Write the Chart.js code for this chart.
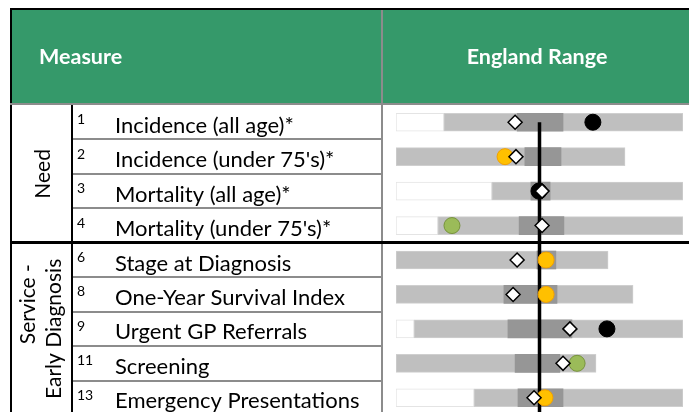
<!DOCTYPE html>
<html lang="en">
<head>
<meta charset="utf-8">
<title>England Range</title>
<script src="https://cdn.jsdelivr.net/npm/chart.js@4/dist/chart.umd.min.js"></script>
<style>
  html, body { margin: 0; padding: 0; background: #fff; overflow: hidden; }
  canvas { display: block; }
</style>
</head>
<body>
<canvas id="spine" width="689" height="420"></canvas>
<script>
// table rows, top to bottom
const rowNumbers = ['1', '2', '3', '4', '6', '8', '9', '11', '13'];
const measures = [
  'Incidence (all age)*',
  'Incidence (under 75\'s)*',
  'Mortality (all age)*',
  'Mortality (under 75\'s)*',
  'Stage at Diagnosis',
  'One-Year Survival Index',
  'Urgent GP Referrals',
  'Screening',
  'Emergency Presentations'
];
const needLabel = 'Need';
const serviceLabel = ['Service - ', 'Early Diagnosis'];
const headerLabels = ['Measure', 'England Range'];

// England range, scaled 0-100 with the England average in the middle
const englandAverage = 50;
const whiteEnd   = [16.7, 0, 33.4, 14.6, 0, 0, 6.3, 0, 27.2];
const darkStart  = [42.2, 44.9, 47.0, 42.9, 49.1, 37.6, 39.0, 41.5, 42.5];
const darkEnd    = [58.2, 57.5, 53.7, 58.5, 55.7, 56.1, 61.3, 57.1, 58.2];
const rangeEnd   = [100, 79.8, 100, 100, 73.9, 82.6, 100, 69.7, 100];
const diamondValues = [41.5, 41.8, 50.9, 50.9, 42.2, 40.8, 60.6, 58.2, 48.1];
const localValues   = [68.6, 38.0, 49.8, 19.5, 52.3, 52.3, 73.5, 63.1, 51.9];
const localStatus   = ['none', 'amber', 'none', 'green', 'amber', 'amber', 'none', 'green', 'amber'];

const statusFill = { none: '#000000', amber: '#ffc000', green: '#9bbb59' };
const statusEdge = { none: '#000000', amber: '#f2a100', green: '#77933c' };

const FONT = 'Lato';

// draws the table (header, borders, row text) behind the spine chart
const tablePlugin = {
  id: 'tableGrid',
  beforeDraw(chart) {
    const ctx = chart.ctx;
    const W = chart.width, H = chart.height;
    const ys = chart.scales.y;
    const rowTop = i => ys.getPixelForValue(i - 0.5);
    const rowMid = i => ys.getPixelForValue(i);

    ctx.save();
    ctx.fillStyle = '#ffffff';
    ctx.fillRect(0, 0, W, H);

    // header block
    ctx.fillStyle = '#35996a';
    ctx.fillRect(10, 10, W - 10, 93);
    ctx.fillStyle = '#000000';
    ctx.fillRect(10, 8, W - 10, 2);
    ctx.fillRect(10, 8, 2, H);
    ctx.fillStyle = '#8c8c8c';
    ctx.fillRect(10, 103, W - 10, 2);
    ctx.fillRect(381, 10, 2, H);

    // row separators in the text columns
    for (let i = 1; i < measures.length; i++) {
      if (i === 4) continue;
      ctx.fillRect(73, Math.round(rowTop(i)) - 1, 308, 2);
    }
    ctx.fillStyle = '#000000';
    ctx.fillRect(71, 105, 2, H);
    ctx.fillRect(10, Math.round(rowTop(4)) - 2, W - 10, 3);

    // header text
    ctx.fillStyle = '#ffffff';
    ctx.font = 'bold 21.5px ' + FONT;
    ctx.textBaseline = 'alphabetic';
    ctx.textAlign = 'left';
    ctx.fillText(headerLabels[0], 39, 64);
    ctx.textAlign = 'center';
    ctx.fillText(headerLabels[1], 537, 64);

    // row numbers and measure names
    ctx.fillStyle = '#000000';
    ctx.textAlign = 'left';
    measures.forEach((m, i) => {
      ctx.font = '14px ' + FONT;
      ctx.fillText(rowNumbers[i], 77, rowMid(i) + 2);
      ctx.font = '22px ' + FONT;
      ctx.fillText(m, 115, rowMid(i) + 10.5);
    });

    // rotated group labels
    ctx.font = '21px ' + FONT;
    ctx.save();
    ctx.translate(0, (rowTop(0) + rowTop(4)) / 2);
    ctx.rotate(-Math.PI / 2);
    ctx.textAlign = 'center';
    ctx.fillText(needLabel, 0, 50);
    ctx.restore();

    ctx.save();
    ctx.translate(0, rowTop(4) + 16);
    ctx.rotate(-Math.PI / 2);
    ctx.textAlign = 'right';
    ctx.fillText(serviceLabel[0], 0, 35);
    ctx.fillText(serviceLabel[1], 0, 61);
    ctx.restore();

    ctx.restore();
  }
};

const rows = measures.map((m, i) => i);

new Chart(document.getElementById('spine'), {
  type: 'bar',
  data: {
    datasets: [
      {
        type: 'scatter',
        order: 0,
        data: rows.map(i => ({ x: diamondValues[i], y: i })),
        pointStyle: 'rectRot',
        pointRadius: 7,
        backgroundColor: '#ffffff',
        borderColor: '#000000',
        borderWidth: 1.5
      },
      {
        type: 'scatter',
        order: 1,
        data: rows.map(i => ({ x: localValues[i], y: i })),
        pointStyle: 'circle',
        pointRadius: 8,
        backgroundColor: localStatus.map(s => statusFill[s]),
        borderColor: localStatus.map(s => statusEdge[s]),
        borderWidth: 1
      },
      {
        type: 'line',
        order: 2,
        data: [{ x: englandAverage, y: 0 }, { x: englandAverage, y: 8.5 }],
        borderColor: '#000000',
        borderWidth: 3.5,
        pointRadius: 0
      },
      {
        order: 3,
        grouped: false,
        data: rows.map(i => ({ y: i, x: [darkStart[i], darkEnd[i]] })),
        backgroundColor: '#969696',
        barThickness: 18
      },
      {
        order: 4,
        grouped: false,
        data: rows.map(i => ({ y: i, x: [whiteEnd[i], rangeEnd[i]] })),
        backgroundColor: '#bfbfbf',
        borderColor: '#cfcfcf',
        borderWidth: 1,
        borderSkipped: false,
        barThickness: 18
      },
      {
        order: 5,
        grouped: false,
        data: rows.filter(i => whiteEnd[i] > 0).map(i => ({ y: i, x: [0, whiteEnd[i]] })),
        backgroundColor: '#ffffff',
        borderColor: '#e4e4e4',
        borderWidth: 1,
        borderSkipped: false,
        barThickness: 18
      }
    ]
  },
  options: {
    indexAxis: 'y',
    responsive: false,
    animation: false,
    events: [],
    layout: { autoPadding: false, padding: { left: 396, right: 6, top: 105, bottom: 5 } },
    scales: {
      x: { type: 'linear', min: 0, max: 100, offset: false, display: false },
      y: { type: 'linear', min: -0.5, max: 8.5, reverse: true, offset: false, display: false }
    },
    plugins: {
      legend: { display: false },
      tooltip: { enabled: false }
    }
  },
  plugins: [tablePlugin]
});
</script>
</body>
</html>
